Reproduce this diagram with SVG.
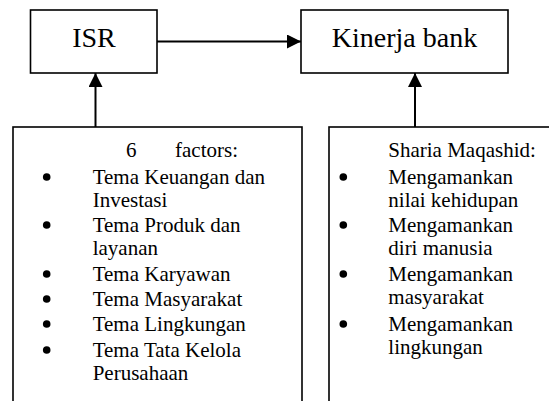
<svg xmlns="http://www.w3.org/2000/svg" width="549" height="401" viewBox="0 0 549 401">
<style>
.box{fill:#fff;stroke:#000;stroke-width:1.6}
.big{font-family:"Liberation Serif","Times New Roman",serif;font-size:28px;fill:#000}
.t{font-family:"Liberation Serif","Times New Roman",serif;font-size:21px;fill:#000}
.ln{stroke:#000;stroke-width:2;fill:none}
.b{fill:#000}
</style>
<defs>
<marker id="ah" viewBox="0 0 14 14" refX="14" refY="7" markerWidth="14" markerHeight="14" markerUnits="userSpaceOnUse" orient="auto">
<path d="M0,0 L14,7 L0,14 Z" fill="#000"/>
</marker>
</defs>
<rect width="549" height="401" fill="#fff"/>
<g id="connectors">
<line class="ln" x1="157" y1="41.5" x2="301" y2="41.5" marker-end="url(#ah)"/>
<line class="ln" x1="95.5" y1="127" x2="95.5" y2="73" marker-end="url(#ah)"/>
<line class="ln" x1="415" y1="127" x2="415" y2="73" marker-end="url(#ah)"/>
</g>
<g id="isr">
<rect class="box" x="30.5" y="10" width="126.5" height="63"/>
<text class="big" x="94" y="47" text-anchor="middle">ISR</text>
</g>
<g id="kinerja">
<rect class="box" x="301" y="10" width="207" height="63"/>
<text class="big" x="404.5" y="47" text-anchor="middle">Kinerja bank</text>
</g>
<g id="factors">
<rect class="box" x="13" y="127" width="289" height="290"/>
<text class="t" x="126" y="157">6</text>
<text class="t" x="175" y="157">factors:</text>
<circle class="b" cx="46.7" cy="177" r="3.8"/>
<text class="t" x="92.7" y="183.5">Tema Keuangan dan</text>
<text class="t" x="92.7" y="206.5">Investasi</text>
<circle class="b" cx="46.7" cy="225" r="3.8"/>
<text class="t" x="92.7" y="231.5">Tema Produk dan</text>
<text class="t" x="92.7" y="254.5">layanan</text>
<circle class="b" cx="46.7" cy="274" r="3.8"/>
<text class="t" x="92.7" y="280.5">Tema Karyawan</text>
<circle class="b" cx="46.7" cy="299" r="3.8"/>
<text class="t" x="92.7" y="305.5">Tema Masyarakat</text>
<circle class="b" cx="46.7" cy="324" r="3.8"/>
<text class="t" x="92.7" y="330.5">Tema Lingkungan</text>
<circle class="b" cx="46.7" cy="350" r="3.8"/>
<text class="t" x="92.7" y="356.5">Tema Tata Kelola</text>
<text class="t" x="92.7" y="380">Perusahaan</text>
</g>
<g id="maqashid">
<rect class="box" x="329" y="127" width="240" height="290"/>
<text class="t" x="388.3" y="157">Sharia Maqashid:</text>
<circle class="b" cx="343.3" cy="177" r="3.8"/>
<text class="t" x="388.3" y="183.5">Mengamankan</text>
<text class="t" x="388.3" y="206.5">nilai kehidupan</text>
<circle class="b" cx="343.3" cy="225" r="3.8"/>
<text class="t" x="388.3" y="231.5">Mengamankan</text>
<text class="t" x="388.3" y="254.5">diri manusia</text>
<circle class="b" cx="343.3" cy="274" r="3.8"/>
<text class="t" x="388.3" y="280.5">Mengamankan</text>
<text class="t" x="388.3" y="303.5">masyarakat</text>
<circle class="b" cx="343.3" cy="324" r="3.8"/>
<text class="t" x="388.3" y="330.5">Mengamankan</text>
<text class="t" x="388.3" y="353.5">lingkungan</text>
</g>
</svg>
